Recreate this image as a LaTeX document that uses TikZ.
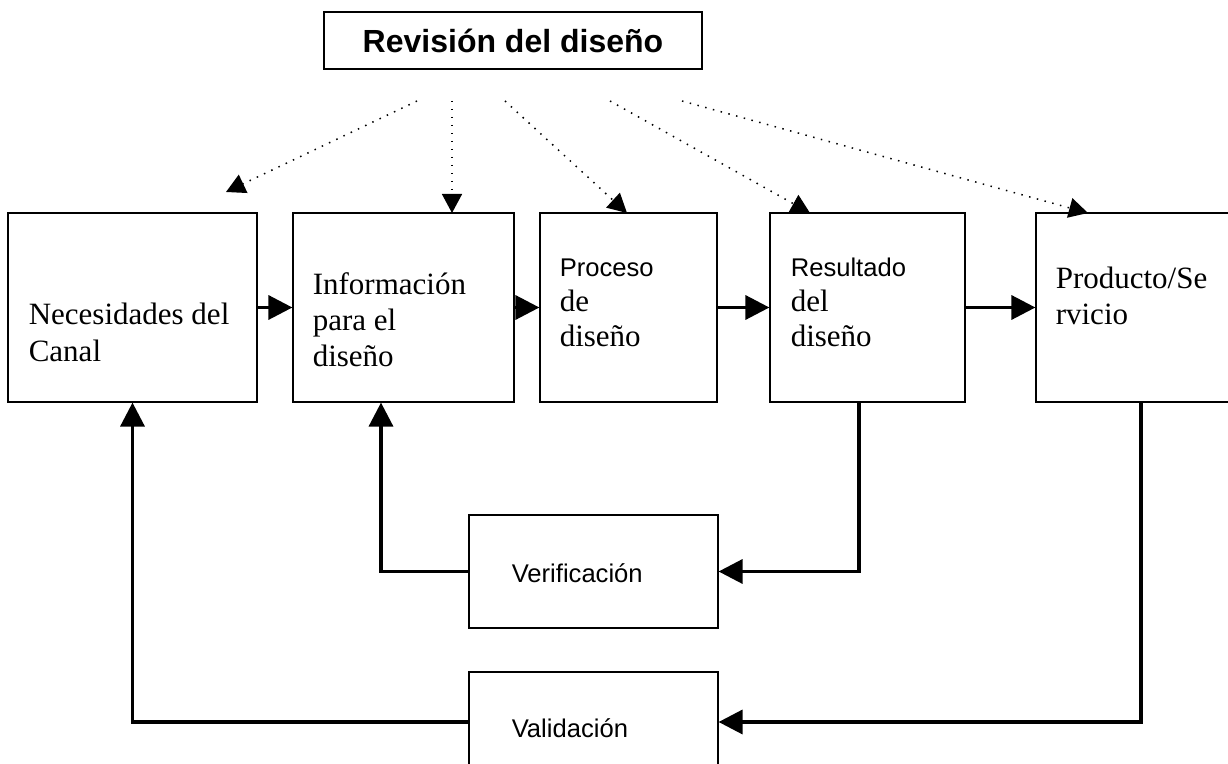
\documentclass[tikz,border=0pt]{standalone}
\usepackage{fontspec}
\setmainfont{Liberation Serif}
\setsansfont{Liberation Sans}
\usetikzlibrary{arrows.meta,positioning}

\begin{document}
\begin{tikzpicture}[x=0.5pt,y=-0.5pt,
  caja/.style={draw,line width=0.6pt,inner sep=0pt},
  texto/.style={anchor=base west,align=left,inner sep=0pt,font=\fontsize{15.5}{18}\selectfont},
  textosf/.style={anchor=base west,align=left,inner sep=0pt,font=\sffamily\fontsize{12.8}{15}\selectfont},
  flujo/.style={line width=1.75pt,-{Triangle[length=12pt,width=12pt]}},
  revision/.style={line width=0.75pt,dash pattern=on 0.75pt off 3.25pt,-{Triangle[length=9.5pt,width=10pt]}}]

\fill[white] (0,0) rectangle (1228,764);
\useasboundingbox (0,0) rectangle (1228,764);

\node[caja,minimum width=189pt,minimum height=28.5pt,font=\sffamily\bfseries\fontsize{16}{19}\selectfont] (rev) at (513,40.5) {Revisión del diseño};

\node[caja,minimum width=124.5pt,minimum height=94.5pt] (nec) at (132.5,307.5) {};
\node[caja,minimum width=110.5pt,minimum height=94.5pt] (info) at (403.5,307.5) {};
\node[caja,minimum width=88.5pt,minimum height=94.5pt] (proc) at (628.5,307.5) {};
\node[caja,minimum width=97.5pt,minimum height=94.5pt] (res) at (867.5,307.5) {};
\node[caja,minimum width=105pt,minimum height=94.5pt] (prod) at (1141,307.5) {};
\node[caja,minimum width=124.5pt,minimum height=56.5pt] (ver) at (593.5,571.5) {};
\node[caja,minimum width=124.5pt,minimum height=50pt] (val) at (593.5,722) {};

\node[texto,font=\fontsize{15.5}{18.5}\selectfont] (necT) at ([shift={(21,149)}]nec.north west) {Necesidades del\\Canal};
\node[texto] (infoT) at ([shift={(20,154)}]info.north west) {Información\\para el\\diseño};
\node[texto,font=\fontsize{15.5}{17.5}\selectfont] (procT) at ([shift={(20,134)}]proc.north west) {{\sffamily\fontsize{12.8}{15}\selectfont Proceso}\\de\\diseño};
\node[texto,font=\fontsize{15.5}{17.5}\selectfont] (resT) at ([shift={(21,134)}]res.north west) {{\sffamily\fontsize{12.8}{15}\selectfont Resultado}\\del\\diseño};
\node[texto] (prodT) at ([shift={(20,112)}]prod.north west) {Producto/Se\\rvicio};
\node[textosf] (verT) at ([shift={(43,68)}]ver.north west) {Verificación};
\node[textosf] (valT) at ([shift={(43,66)}]val.north west) {Validación};

% flechas punteadas
\coordinate (r1) at (417,101);
\coordinate (r2) at (452,101);
\coordinate (r3) at (505,101);
\coordinate (r4) at (610,101);
\coordinate (r5) at (682,101);
\coordinate (e1) at (226,192);
\coordinate (e2) at (452,213);
\coordinate (e3) at (627,213);
\coordinate (e4) at (810,213);
\coordinate (e5) at (1088,213);
\foreach \i in {1,...,5}
  \draw[revision] (r\i) -- (e\i);

\draw[flujo] (nec) -- (info);
\draw[flujo] (info) -- (proc);
\draw[flujo] (proc) -- (res);
\draw[flujo] (res) -- (prod);

\draw[flujo] ([xshift=-4.25pt]res.south) |- (ver.east);
\draw[flujo] (ver.west) -| ([xshift=-11.25pt]info.south);
\draw[flujo] (prod.south) |- (val.east);
\draw[flujo] (val.west) -| (nec.south);
\end{tikzpicture}
\end{document}
